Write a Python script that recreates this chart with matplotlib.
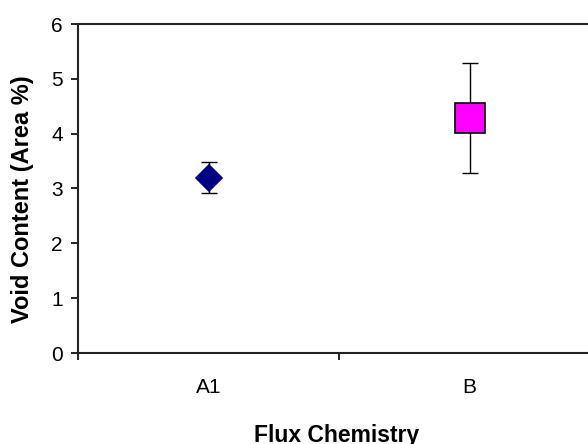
import matplotlib.pyplot as plt

plt.rcParams['font.family'] = ['Liberation Sans', 'DejaVu Sans']

# Void content per flux chemistry (mean and +/- error)
categories = ['A1', 'B']
void_mean = [3.2, 4.29]
void_err = [0.28, 1.0]
marker_styles = ['D', 's']
marker_colors = ['#000080', '#FF00FF']
marker_edges = ['#000080', '#000000']
marker_sizes = [13.5, 21.5]

fig = plt.figure(figsize=(5.88, 4.44), dpi=100)
# axes runs past the right edge of the figure, so the right border is cut off
ax = fig.add_axes([78 / 588, 1 - 353 / 444, 522 / 588, 329 / 444])

for i, cat in enumerate(categories):
    ax.errorbar(i + 1, void_mean[i], yerr=void_err[i], fmt='none',
                ecolor='black', elinewidth=1.0, capsize=5.5, capthick=1.0, zorder=2)
    ax.plot(i + 1, void_mean[i], marker=marker_styles[i], linestyle='none',
            markersize=marker_sizes[i], markerfacecolor=marker_colors[i],
            markeredgecolor=marker_edges[i], markeredgewidth=1.2, zorder=3)

ax.set_xlim(0.5, len(categories) + 0.5)
ax.set_ylim(0, 6)
ax.set_yticks(range(0, 7))

# category labels centred, ticks on the category boundaries
ax.set_xticks([i + 1 for i in range(len(categories))])
ax.set_xticklabels(categories)
ax.set_xticks([i + 0.5 for i in range(len(categories) + 1)], minor=True)
ax.tick_params(axis='x', which='major', length=0, pad=18, labelsize=15)
ax.tick_params(axis='x', which='minor', length=5, width=1.2, direction='out')
ax.tick_params(axis='y', length=5, width=1.2, direction='out', pad=6, labelsize=15)

for side in ['left', 'top', 'bottom', 'right']:
    ax.spines[side].set_linewidth(1.5)
    ax.spines[side].set_color('#222222')

ax.set_xlabel('Flux Chemistry', fontsize=16.5, fontweight='bold')
ax.set_ylabel('Void Content (Area %)', fontsize=17, fontweight='bold')
ax.xaxis.set_label_coords((337 - 78) / 522, -(424 - 353) / 329)
ax.yaxis.set_label_coords((34 - 78) / 522, (353 - 199) / 329)

fig.savefig('out.png', dpi=100)
